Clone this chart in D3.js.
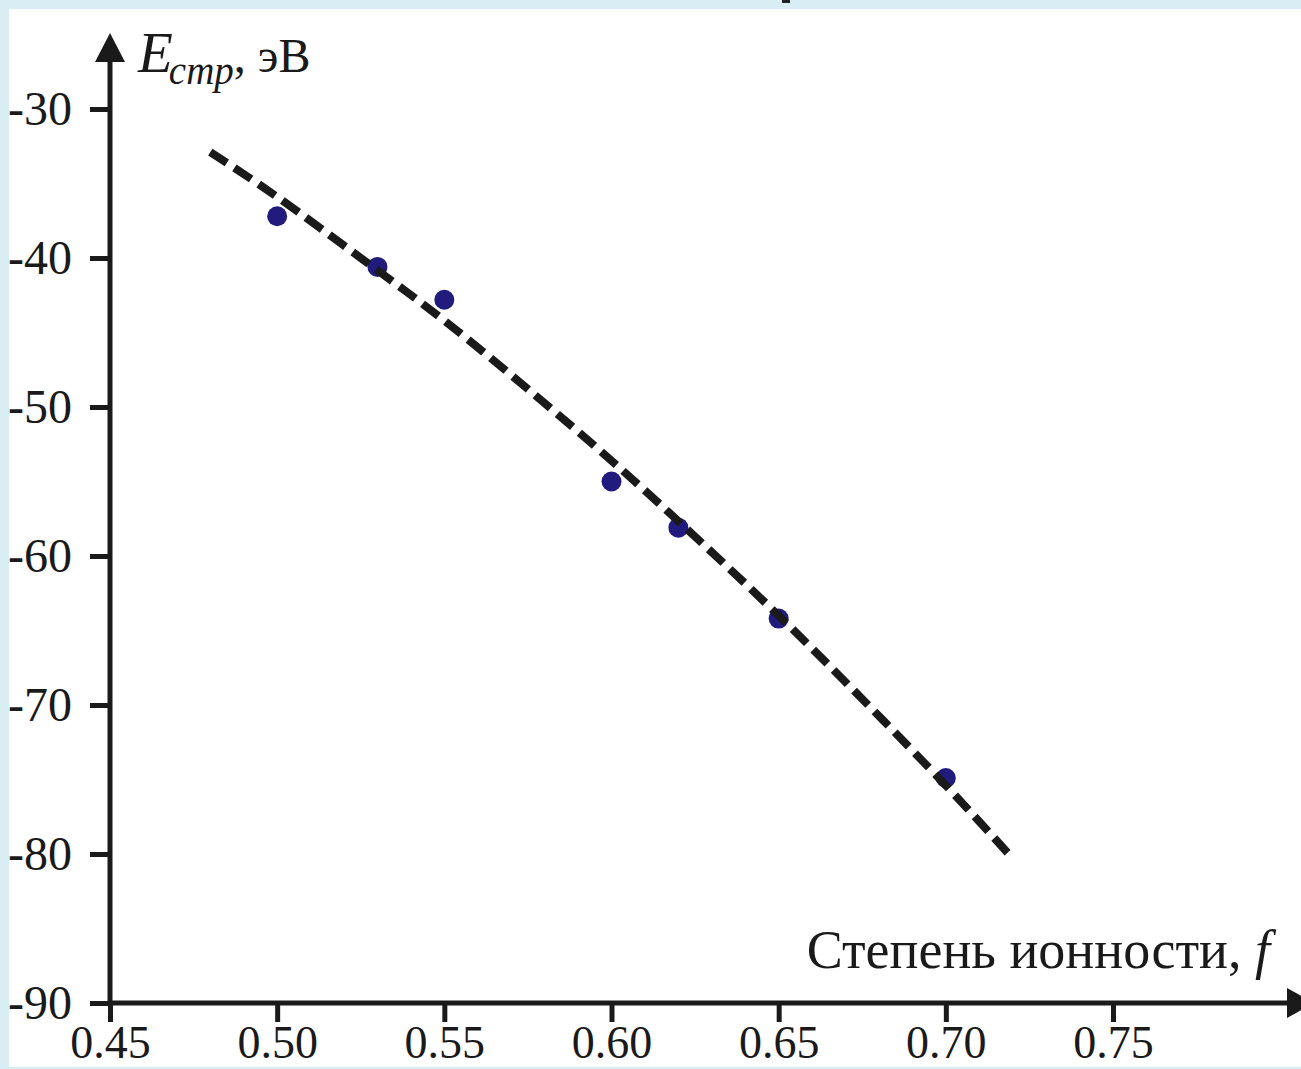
<!DOCTYPE html>
<html>
<head>
<meta charset="utf-8">
<script src="https://cdn.jsdelivr.net/npm/d3@7"></script>
<style>
  body { margin: 0; background: #d9edf4; }
  svg { display: block; }
  text { font-family: "Liberation Serif", "Times New Roman", serif; fill: #1a1a1a; }
</style>
</head>
<body>
<svg class="chart"></svg>
<script>
// measured points
const fValues = [0.50, 0.53, 0.55, 0.60, 0.62, 0.65, 0.70];
const eValues = [-37.2, -40.6, -42.8, -55.0, -58.1, -64.2, -74.9];

// fitted curve (dashed)
const fitF = [0.48, 0.50, 0.525, 0.55, 0.575, 0.60, 0.625, 0.65, 0.675, 0.70, 0.72];
const fitE = [-32.9, -35.9, -40.0, -44.2, -48.8, -53.6, -58.7, -64.0, -69.6, -75.4, -80.3];

const xTicks = [0.45, 0.50, 0.55, 0.60, 0.65, 0.70, 0.75];
const yTicks = [-90, -80, -70, -60, -50, -40, -30];

const width = 1301, height = 1069;

const svg = d3.select('.chart')
    .attr('width', width)
    .attr('height', height);

// light blue frame + white page
svg.append('rect')
    .attr('width', width).attr('height', height)
    .attr('fill', '#d9edf4');
svg.append('rect')
    .attr('x', 9).attr('y', 9)
    .attr('width', width - 9).attr('height', 1058)
    .attr('fill', '#ffffff');
svg.append('rect')
    .attr('x', 782).attr('y', 0).attr('width', 8).attr('height', 3)
    .attr('fill', '#222');

const xScale = d3.scaleLinear()
    .domain([0.45, 0.75])
    .range([110, 1113]);

const yScale = d3.scaleLinear()
    .domain([-90, -30])
    .range([1003, 109]);

const ink = '#1a1a1a';

// axes
const xAxis = svg.append('g')
    .attr('transform', 'translate(0,' + yScale(-90) + ')')
    .call(d3.axisBottom(xScale)
        .tickValues(xTicks)
        .tickFormat(d3.format('.2f'))
        .tickSize(19)
        .tickPadding(3));
xAxis.select('.domain').remove();
xAxis.selectAll('line').attr('stroke', ink).attr('stroke-width', 5);
xAxis.selectAll('text')
    .style('font-size', '46px')
    .attr('fill', ink)
    .attr('font-family', null);

const yAxis = svg.append('g')
    .attr('transform', 'translate(' + xScale(0.45) + ',0)')
    .call(d3.axisLeft(yScale)
        .tickValues(yTicks)
        .tickFormat(d3.format('d'))
        .tickSize(20)
        .tickPadding(18));
yAxis.select('.domain').remove();
yAxis.selectAll('line').attr('stroke', ink).attr('stroke-width', 5);
yAxis.selectAll('text')
    .style('font-size', '48px')
    .attr('fill', ink)
    .attr('font-family', null)
    .text(d => '-' + Math.abs(d));

// axis lines with arrows
const x0 = xScale(0.45), y0 = yScale(-90);
svg.append('line')
    .attr('x1', x0).attr('y1', y0 + 2)
    .attr('x2', x0).attr('y2', 55)
    .attr('stroke', ink).attr('stroke-width', 5);
svg.append('path')
    .attr('d', 'M' + (x0 - 15) + ',62 L' + x0 + ',33 L' + (x0 + 15) + ',62 Z')
    .attr('fill', ink);

svg.append('line')
    .attr('x1', x0 - 2).attr('y1', y0)
    .attr('x2', 1290).attr('y2', y0)
    .attr('stroke', ink).attr('stroke-width', 5);
svg.append('path')
    .attr('d', 'M1287,' + (y0 - 15) + ' L1314,' + y0 + ' L1287,' + (y0 + 15) + ' Z')
    .attr('fill', ink);

// axis titles
const yTitle = svg.append('text')
    .attr('x', 138)
    .attr('y', 72);
yTitle.append('tspan')
    .style('font-style', 'italic')
    .style('font-size', '57px')
    .text('E');
yTitle.append('tspan')
    .style('font-style', 'italic')
    .style('font-size', '39px')
    .attr('dy', 12)
    .attr('dx', -4)
    .text('стр');
yTitle.append('tspan')
    .style('font-size', '48px')
    .attr('dy', -12)
    .text(', эВ');

const xTitle = svg.append('text')
    .attr('x', 1270)
    .attr('y', 968)
    .style('text-anchor', 'end')
    .style('font-size', '54px');
xTitle.append('tspan').text('Степень ионности, ');
xTitle.append('tspan').style('font-style', 'italic').text('f');

// fitted dashed curve
const fit = fitF.map((f, i) => ({ f: f, e: fitE[i] }));
const line = d3.line()
    .x(d => xScale(d.f))
    .y(d => yScale(d.e))
    .curve(d3.curveNatural);

// points
const pts = fValues.map((f, i) => ({ f: f, e: eValues[i] }));
svg.selectAll('circle.pt')
    .data(pts)
    .enter().append('circle')
    .attr('class', 'pt')
    .attr('cx', d => xScale(d.f))
    .attr('cy', d => yScale(d.e))
    .attr('r', 10)
    .attr('fill', '#221b7e');

svg.append('path')
    .datum(fit)
    .attr('d', line)
    .attr('fill', 'none')
    .attr('stroke', ink)
    .attr('stroke-width', 8)
    .attr('stroke-dasharray', '20,9');
</script>
</body>
</html>
